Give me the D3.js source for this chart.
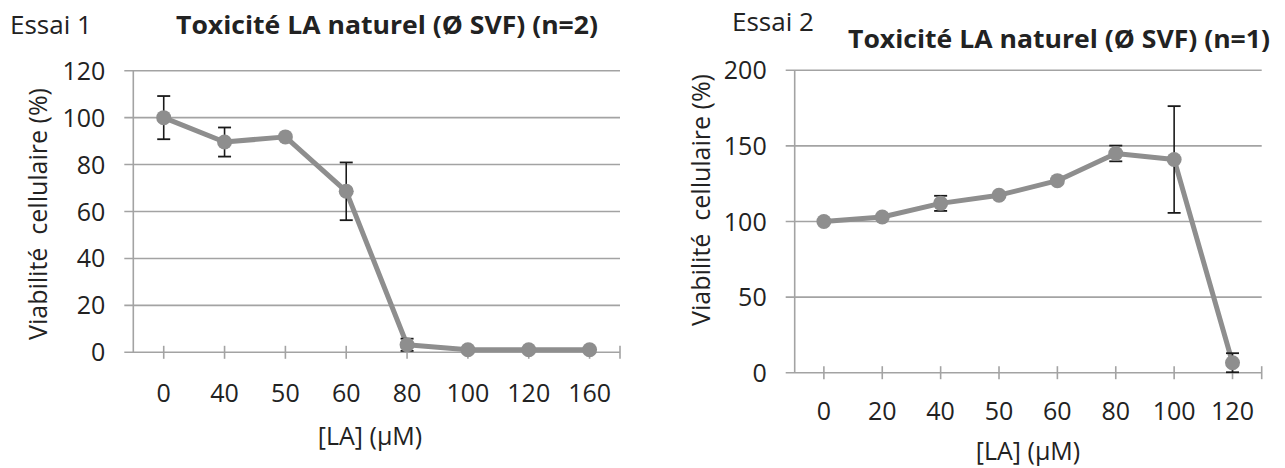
<!DOCTYPE html>
<html>
<head>
<meta charset="utf-8">
<script src="https://cdn.jsdelivr.net/npm/d3@7"></script>
<style>
  html, body { margin: 0; padding: 0; background: #fff; }
  svg { display: block; }
  text { font-family: "Open Sans", Lato, sans-serif; fill: #222; }
</style>
</head>
<body>
<svg id="chart" width="1285" height="468"></svg>
<script>
// ---- Data ----
const cats1 = ["0", "40", "50", "60", "80", "100", "120", "160"];
const vals1 = [100, 89.6, 91.8, 68.6, 3.2, 1.1, 1.1, 1.1];
const errs1 = [9.2, 6.2, 0, 12.3, 2.6, 0, 0, 0];
const yTicks1 = [0, 20, 40, 60, 80, 100, 120];

const cats2 = ["0", "20", "40", "50", "60", "80", "100", "120"];
const vals2 = [100, 103, 112, 117.4, 127, 145, 141, 6.6];
const errs2 = [0, 0, 5, 0, 0, 5.2, 35.3, 6.3];
const yTicks2 = [0, 50, 100, 150, 200];

const titles = ["Toxicité LA naturel (Ø SVF) (n=2)", "Toxicité LA naturel (Ø SVF) (n=1)"];
const essais = ["Essai 1", "Essai 2"];
const xTitle = "[LA] (µM)";
const yTitle = "Viabilité  cellulaire (%)";

const svg = d3.select("#chart");
const GRID = "#a3a3a3";
const LINE = "#8e8e8e";
const FS = 25;

function drawChart(cfg) {
  const g = svg.append("g");
  const x = d3.scaleBand().domain(cfg.cats).range([cfg.x0, cfg.x1]).padding(0);
  const y = d3.scaleLinear().domain([0, cfg.yMax]).range([cfg.y0, cfg.yTop]);
  const cx = d => x(d) + x.bandwidth() / 2;

  // gridlines + y ticks (extend left of the axis)
  g.selectAll(".grid").data(cfg.yTicks).join("line")
    .attr("x1", cfg.x0 - 9).attr("x2", cfg.x1)
    .attr("y1", d => y(d)).attr("y2", d => y(d))
    .attr("stroke", GRID).attr("stroke-width", 1.6);

  // y axis line
  g.append("line").attr("x1", cfg.x0).attr("x2", cfg.x0)
    .attr("y1", y(cfg.yMax)).attr("y2", y(0))
    .attr("stroke", GRID).attr("stroke-width", 1.6);

  // x axis ticks (at each category centre, plus the right end)
  const tickXs = cfg.cats.map(cx).concat([cfg.x1]);
  g.selectAll(".xt").data(tickXs).join("line")
    .attr("x1", d => d).attr("x2", d => d)
    .attr("y1", y(0) - 6.5).attr("y2", y(0) + 6.5)
    .attr("stroke", GRID).attr("stroke-width", 1.6);

  // y tick labels
  g.selectAll(".yl").data(cfg.yTicks).join("text")
    .attr("x", cfg.x0 - 28).attr("y", d => y(d) + 9)
    .attr("text-anchor", "end").attr("font-size", FS)
    .text(d => d);

  // x tick labels
  g.selectAll(".xl").data(cfg.cats).join("text")
    .attr("x", d => cx(d)).attr("y", y(0) + cfg.xLabDy)
    .attr("text-anchor", "middle").attr("font-size", FS)
    .text(d => d);

  // line
  const pts = cfg.cats.map((c, i) => [cx(c), y(cfg.vals[i])]);
  g.append("path").attr("d", d3.line()(pts))
    .attr("fill", "none").attr("stroke", LINE).attr("stroke-width", 5)
    .attr("stroke-linejoin", "round");

  // error bars
  const eb = cfg.cats.map((c, i) => ({ c, v: cfg.vals[i], e: cfg.errs[i] })).filter(d => d.e > 0);
  const ebg = g.selectAll(".eb").data(eb).join("g");
  ebg.append("line").attr("x1", d => cx(d.c)).attr("x2", d => cx(d.c))
    .attr("y1", d => y(d.v + d.e)).attr("y2", d => y(Math.max(0, d.v - d.e)))
    .attr("stroke", "#1a1a1a").attr("stroke-width", 1.6);
  ebg.append("line").attr("x1", d => cx(d.c) - 6.5).attr("x2", d => cx(d.c) + 6.5)
    .attr("y1", d => y(d.v + d.e)).attr("y2", d => y(d.v + d.e))
    .attr("stroke", "#1a1a1a").attr("stroke-width", 1.8);
  ebg.append("line").attr("x1", d => cx(d.c) - 6.5).attr("x2", d => cx(d.c) + 6.5)
    .attr("y1", d => y(Math.max(0, d.v - d.e))).attr("y2", d => y(Math.max(0, d.v - d.e)))
    .attr("stroke", "#1a1a1a").attr("stroke-width", 1.8);

  // markers
  g.selectAll(".pt").data(pts).join("circle")
    .attr("cx", d => d[0]).attr("cy", d => d[1]).attr("r", 7.5)
    .attr("fill", LINE);

  // titles
  g.append("text").attr("x", cfg.essaiX).attr("y", cfg.essaiY)
    .attr("font-size", 26).text(cfg.essai);
  g.append("text").attr("x", cfg.titleX).attr("y", cfg.titleY)
    .attr("text-anchor", "middle").attr("font-size", FS).attr("font-weight", "bold")
    .attr("textLength", 422).attr("lengthAdjust", "spacingAndGlyphs")
    .text(cfg.title);
  g.append("text").attr("x", cfg.xTitleX).attr("y", cfg.xTitleY)
    .attr("text-anchor", "middle").attr("font-size", FS).text(xTitle);
  g.append("text")
    .attr("transform", `translate(${cfg.yTitleX},${cfg.yTitleCY}) rotate(-90)`)
    .attr("text-anchor", "middle").attr("font-size", FS)
    .style("white-space", "pre").text(yTitle);
}

drawChart({
  cats: cats1, vals: vals1, errs: errs1, yTicks: yTicks1, yMax: 120,
  x0: 133.3, x1: 620, y0: 352.3, yTop: 70.7, xLabDy: 50,
  essai: essais[0], essaiX: 10, essaiY: 34,
  title: titles[0], titleX: 387, titleY: 34,
  xTitleX: 370, xTitleY: 445, yTitleX: 47, yTitleCY: 214
});

drawChart({
  cats: cats2, vals: vals2, errs: errs2, yTicks: yTicks2, yMax: 200,
  x0: 794.7, x1: 1261.7, y0: 372.7, yTop: 70.3, xLabDy: 47,
  essai: essais[1], essaiX: 732, essaiY: 31,
  title: titles[1], titleX: 1059, titleY: 48,
  xTitleX: 1028, xTitleY: 460, yTitleX: 710, yTitleCY: 200
});
</script>
</body>
</html>
